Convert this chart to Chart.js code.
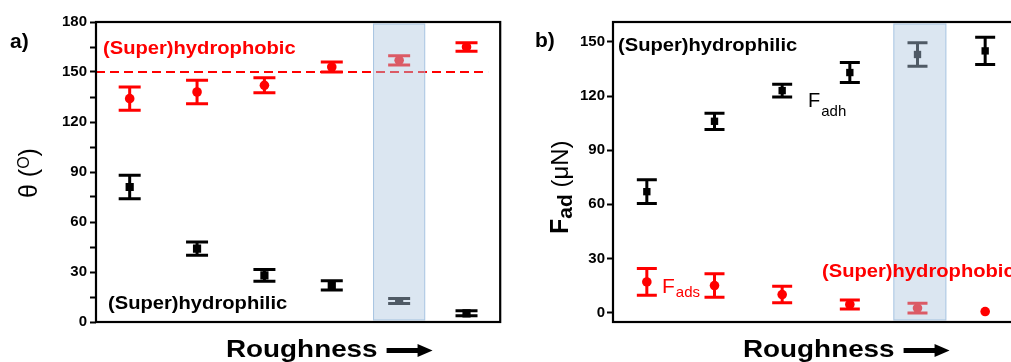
<!DOCTYPE html>
<html>
<head>
<meta charset="utf-8">
<script src="https://cdn.jsdelivr.net/npm/chart.js@4.4.1/dist/chart.umd.min.js"></script>
<style>
  body { margin: 0; overflow: hidden; background: #fff; width: 1011px; height: 362px; position: relative; }
  canvas { position: absolute; top: 0; }
  #chartA { left: 0; }
  #chartB { left: 506px; }
</style>
</head>
<body>
<canvas id="chartA" width="506" height="362"></canvas>
<canvas id="chartB" width="524" height="362"></canvas>
<script>
// samples, ordered by roughness
const samples = [1, 2, 3, 4, 5, 6];

// a) contact angle (deg)
const thetaPhobic = [134, 138, 142, 153, 157, 165];
const thetaPhobicErr = [7, 7, 4.5, 3, 2.8, 2.5];
const thetaPhilic = [81, 44, 28, 22, 12.6, 5.2];
const thetaPhilicErr = [7, 4, 3.5, 2.8, 1.5, 1.5];
const thetaTicks = [0, 15, 30, 45, 60, 75, 90, 105, 120, 135, 150, 165, 180];
const superLimit = 150;

// b) adhesion force (uN)
const fAdh = [67, 106, 123, 133, 143, 145];
const fAdhErr = [6.6, 4.5, 3.5, 5.5, 6.5, 7.5];
const fAds = [17, 15, 10, 4.5, 2.5, 0.6];
const fAdsErr = [7.4, 6.5, 4.6, 2.5, 2.7, 0];
const forceTicks = [0, 30, 60, 90, 120, 150];

// highlighted sample (shaded band)
const bandA = [4.62, 5.38];
const bandB = [4.65, 5.42];

const FONT = "'Liberation Sans', Arial, sans-serif";
const RED = '#ff0000';

function pts(vals) {
  return samples.map((x, i) => ({ x: x, y: vals[i] }));
}

function txt(ctx, s, x, y, font, color, sx) {
  ctx.save();
  ctx.font = font;
  ctx.fillStyle = color;
  ctx.textBaseline = 'alphabetic';
  ctx.translate(x, y);
  ctx.scale(sx || 1, 1);
  ctx.fillText(s, 0, 0);
  const w = ctx.measureText(s).width * (sx || 1);
  ctx.restore();
  return w;
}

// error bars drawn under the markers
const errorBars = {
  id: 'errorBars',
  beforeDatasetsDraw(chart) {
    const ctx = chart.ctx, xs = chart.scales.x, ys = chart.scales.y;
    chart.data.datasets.forEach(ds => {
      if (!ds.err) return;
      ctx.save();
      ctx.strokeStyle = ds.borderColor;
      ctx.lineWidth = 3;
      ds.data.forEach((p, i) => {
        const e = ds.err[i];
        if (!e) return;
        const x = xs.getPixelForValue(p.x);
        const y1 = ys.getPixelForValue(p.y + e);
        const y2 = ys.getPixelForValue(p.y - e);
        const w = ds.capWidth / 2;
        ctx.beginPath();
        ctx.moveTo(x, y1); ctx.lineTo(x, y2);
        ctx.moveTo(x - w, y1); ctx.lineTo(x + w, y1);
        ctx.moveTo(x - w, y2); ctx.lineTo(x + w, y2);
        ctx.stroke();
      });
      ctx.restore();
    });
  }
};

// band, frame, labels
const deco = {
  id: 'deco',
  afterDatasetsDraw(chart, args, opts) {
    const ctx = chart.ctx, a = chart.chartArea, xs = chart.scales.x;
    const x1 = xs.getPixelForValue(opts.band[0]);
    const x2 = xs.getPixelForValue(opts.band[1]);
    ctx.save();
    ctx.fillStyle = 'rgba(176,200,224,0.45)';
    ctx.fillRect(x1, a.top + 2, x2 - x1, a.bottom - a.top - 4);
    ctx.strokeStyle = 'rgba(150,185,220,0.8)';
    ctx.lineWidth = 1;
    ctx.strokeRect(x1, a.top + 2, x2 - x1, a.bottom - a.top - 4);
    ctx.strokeStyle = '#000';
    ctx.lineWidth = 2.2;
    ctx.strokeRect(a.left, a.top, a.right - a.left, a.bottom - a.top);
    ctx.restore();
  },
  afterDraw(chart, args, opts) {
    const ctx = chart.ctx, a = chart.chartArea;
    opts.draw(ctx, a);
    // x title with arrow
    const x0 = a.left + 130;
    const w = txt(ctx, 'Roughness', x0, 357, 'bold 24px ' + FONT, '#000', 1.16);
    const ax = x0 + w + 9, ay = 350.5;
    ctx.save();
    ctx.fillStyle = '#000';
    ctx.fillRect(ax, ay - 2.5, 33, 5);
    ctx.beginPath();
    ctx.moveTo(ax + 31, ay - 6.5);
    ctx.lineTo(ax + 46, ay);
    ctx.lineTo(ax + 31, ay + 6.5);
    ctx.closePath();
    ctx.fill();
    ctx.restore();
  }
};

function yAxis(min, max, ticks, width, every, pad) {
  return {
    min: min, max: max,
    afterBuildTicks: s => { s.ticks = ticks.map(v => ({ value: v })); },
    afterFit: s => { s.width = width; },
    border: { display: false },
    grid: { drawOnChartArea: false, tickLength: 6, tickWidth: 2, color: '#000' },
    ticks: {
      autoSkip: false,
      padding: pad,
      color: '#000',
      font: { family: FONT, size: 15, weight: 'bold' },
      callback: v => (v % every === 0 ? v : '')
    }
  };
}

function scatterSet(vals, err, color, style, radius, cap) {
  return {
    data: pts(vals), err: err, capWidth: cap,
    borderColor: color, backgroundColor: color,
    pointStyle: style, pointRadius: radius, pointBorderWidth: 0, showLine: false
  };
}

// a) contact angle
new Chart(document.getElementById('chartA'), {
  type: 'scatter',
  data: {
    datasets: [
      {
        type: 'line',
        data: [{ x: 0.5, y: superLimit }, { x: 6.32, y: superLimit }],
        borderColor: RED, borderWidth: 2, borderDash: [9, 5], pointRadius: 0
      },
      scatterSet(thetaPhobic, thetaPhobicErr, RED, 'circle', 4.8, 22),
      scatterSet(thetaPhilic, thetaPhilicErr, '#000', 'rect', 5.8, 22)
    ]
  },
  options: {
    responsive: false,
    animation: false,
    layout: { padding: { left: 0, right: 4, top: 22, bottom: 40 } },
    scales: {
      x: { type: 'linear', min: 0.5, max: 6.5, display: false },
      y: yAxis(0, 180, thetaTicks, 96, 30, 3)
    },
    plugins: {
      legend: { display: false },
      tooltip: { enabled: false },
      deco: {
        band: bandA,
        draw(ctx, a) {
          txt(ctx, 'a)', 10, 48, 'bold 21px ' + FONT, '#000');
          txt(ctx, '(Super)hydrophobic', 103, 53.5, 'bold 18px ' + FONT, RED, 1.12);
          txt(ctx, '(Super)hydrophilic', 108, 308.5, 'bold 18px ' + FONT, '#000', 1.12);
          // y title: theta (deg)
          ctx.save();
          ctx.translate(37, 198);
          ctx.rotate(-Math.PI / 2);
          let x = txt(ctx, 'θ (', 0, 0, '25px ' + FONT, '#000');
          x += txt(ctx, 'O', x, -8, '16px ' + FONT, '#000');
          txt(ctx, ')', x, 0, '25px ' + FONT, '#000');
          ctx.restore();
        }
      }
    }
  },
  plugins: [errorBars, deco]
});

// b) adhesion force
const OX = 506;
new Chart(document.getElementById('chartB'), {
  type: 'scatter',
  data: {
    datasets: [
      scatterSet(fAds, fAdsErr, RED, 'circle', 4.8, 20),
      scatterSet(fAdh, fAdhErr, '#000', 'rect', 5.2, 20)
    ]
  },
  options: {
    responsive: false,
    animation: false,
    layout: { padding: { left: 0, right: 11, top: 22, bottom: 40 } },
    scales: {
      x: { type: 'linear', min: 0.5, max: 6.5, display: false },
      y: yAxis(-5.2, 161, forceTicks, 107, 30, 2)
    },
    plugins: {
      legend: { display: false },
      tooltip: { enabled: false },
      deco: {
        band: bandB,
        draw(ctx, a) {
          txt(ctx, 'b)', 535 - OX, 47, 'bold 21px ' + FONT, '#000');
          txt(ctx, '(Super)hydrophilic', 618 - OX, 50.5, 'bold 18px ' + FONT, '#000', 1.12);
          txt(ctx, '(Super)hydrophobic', 822 - OX, 276.5, 'bold 18px ' + FONT, RED, 1.12);
          let w = txt(ctx, 'F', 808 - OX, 107, '20px ' + FONT, '#000');
          txt(ctx, 'adh', 808 - OX + w + 1, 116, '15px ' + FONT, '#000');
          w = txt(ctx, 'F', 662 - OX, 293, '21px ' + FONT, RED);
          txt(ctx, 'ads', 662 - OX + w + 1, 297, '15px ' + FONT, RED);
          // y title: F_ad (uN)
          ctx.save();
          ctx.translate(568 - OX, 234);
          ctx.rotate(-Math.PI / 2);
          let x = txt(ctx, 'F', 0, 0, 'bold 25px ' + FONT, '#000');
          x += txt(ctx, 'ad', x, 4, 'bold 21px ' + FONT, '#000');
          txt(ctx, ' (μN)', x, 0, '24px ' + FONT, '#000');
          ctx.restore();
        }
      }
    }
  },
  plugins: [errorBars, deco]
});
</script>
</body>
</html>
